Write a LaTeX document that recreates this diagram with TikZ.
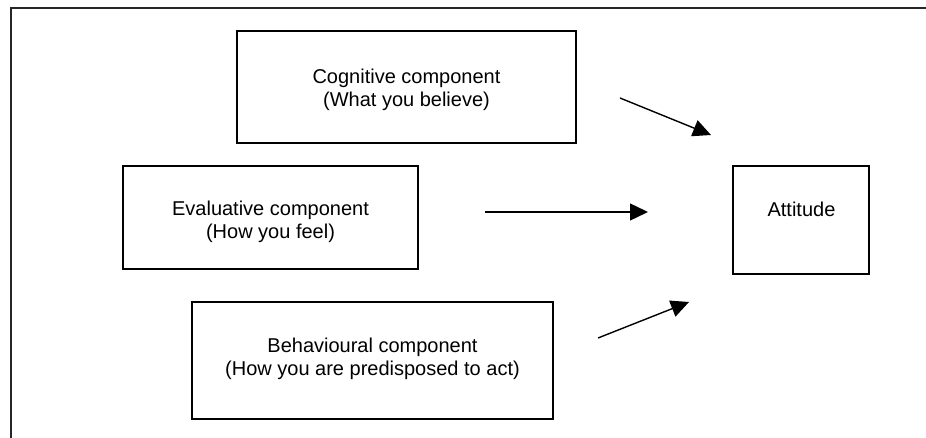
\documentclass[tikz,border=0pt]{standalone}
\usepackage{fontspec}
\setmainfont{Liberation Sans}
\usetikzlibrary{arrows.meta}
\begin{document}
\begin{tikzpicture}[x=1pt,y=-1pt,
  box/.style={draw=black,line width=1.6pt,inner sep=0pt,outer sep=0pt},
  lbl/.style={align=center,inner sep=0pt,font=\fontsize{20}{23}\selectfont},
  conn/.style={line width=1.4pt,-{Triangle[length=18pt,width=17pt]}},
  frame/.style={line width=1.8pt,draw=black!85}]
\useasboundingbox (0,0) rectangle (926,438);
\fill[white] (0,0) rectangle (926,438);
% outer frame (top and left edges visible)
\coordinate (ftl) at (11,8);
\coordinate (ftr) at (930,8);
\coordinate (fbl) at (11,442);
\draw[frame] (ftr) -- (ftl) -- (fbl);
% boxes
\node[box,minimum width=339pt,minimum height=112pt] (cog) at (406.5,87) {};
\node[box,minimum width=295pt,minimum height=103pt] (eva) at (270.5,217.5) {};
\node[box,minimum width=361pt,minimum height=117pt] (beh) at (372.5,360.5) {};
\node[box,minimum width=136pt,minimum height=108pt] (att) at (801,220) {};
% texts
\node[lbl] (cogT) at (406.5,89.5) {Cognitive component\\(What you believe)};
\node[lbl] (evaT) at (270.5,222) {Evaluative component\\(How you feel)};
\node[lbl] (behT) at (372.5,359) {Behavioural component\\(How you are predisposed to act)};
\node[lbl] (attT) at (801.5,209.5) {Attitude};
% arrows
\coordinate (a1s) at (620,98);
\coordinate (a1e) at (711,135);
\coordinate (a2s) at (485,212);
\coordinate (a2e) at (648,212);
\coordinate (a3s) at (598,338);
\coordinate (a3e) at (689,302);
\draw[conn] (a1s) -- (a1e);
\draw[conn] (a2s) -- (a2e);
\draw[conn] (a3s) -- (a3e);
\end{tikzpicture}
\end{document}
